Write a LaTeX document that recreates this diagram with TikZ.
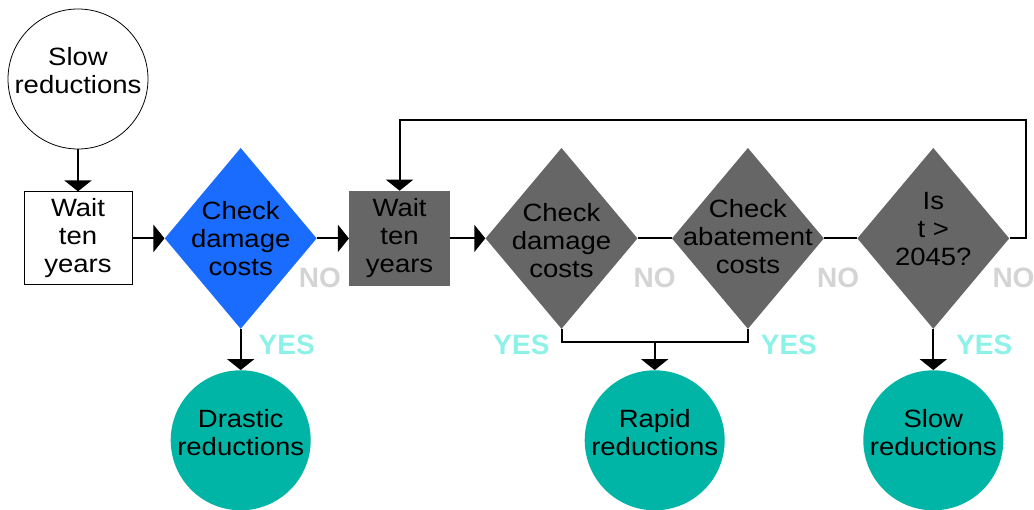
\documentclass[tikz,border=0pt]{standalone}
\usepackage{fontspec}
\setmainfont{Liberation Sans}
\newfontfamily\widesans[FakeStretch=1.1]{Liberation Sans}
\usetikzlibrary{positioning,shapes.geometric,arrows.meta,calc}
\definecolor{chkblue}{RGB}{26,108,255}
\definecolor{stepgray}{RGB}{102,102,102}
\definecolor{endteal}{RGB}{0,181,165}
\definecolor{nogray}{RGB}{212,212,212}
\definecolor{yescyan}{RGB}{140,242,232}
\begin{document}
\begin{tikzpicture}[x=1pt, y=1pt,
	txt/.style = {align=center, inner sep=0pt, font=\widesans\fontsize{25}{28}\selectfont},
	waitbox/.style = {rectangle, minimum width=108pt, minimum height=93pt, txt},
	decide/.style = {diamond, fill=#1, minimum width=152pt, minimum height=181pt, inner sep=0pt},
	endcirc/.style = {circle, fill=endteal, minimum size=140pt, inner sep=0pt},
	flow/.style = {line width=2pt, -{Triangle[width=27pt,length=11pt]}},
	link/.style = {line width=2pt},
	nolbl/.style = {text=nogray, inner sep=0pt, font=\bfseries\fontsize{28}{28}\selectfont},
	yeslbl/.style = {text=yescyan, inner sep=0pt, font=\bfseries\fontsize{28}{28}\selectfont}]
	\useasboundingbox (0,0) rectangle (1034,-510);
	% main row
	\node[circle, draw, line width=0.8pt, minimum size=140pt, inner sep=0pt,
		label={[txt,yshift=8pt]center:Slow\\reductions}] (slow0) at (78,-79) {};
	\node[waitbox, draw, line width=1pt] (wait1) [below=42pt of slow0] {Wait\\ten\\years};
	\node[decide=chkblue, label={[txt]center:Check\\damage\\costs}] (chk1) [right=32pt of wait1] {};
	\node[waitbox, fill=stepgray, minimum width=101pt, minimum height=95pt] (wait2) [right=32pt of chk1] {Wait\\ten\\years};
	\node[decide=stepgray, label={[txt,yshift=-2pt]center:Check\\damage\\costs}] (chk2) [right=35pt of wait2] {};
	\node[decide=stepgray, label={[txt,yshift=2pt]center:Check\\abatement\\costs}] (chk3) [right=34pt of chk2] {};
	\node[decide=stepgray, label={[txt,yshift=9pt]center:Is\\t >\\2045?}] (tchk) [right=33pt of chk3] {};
	% outcomes
	\node[endcirc, label={[txt,yshift=8pt]center:Drastic\\reductions}] (drastic) [below=41pt of chk1] {};
	\coordinate (join) at ($(chk2.south)!0.5!(chk3.south)+(0,-13)$);
	\node[endcirc, label={[txt,yshift=8pt]center:Rapid\\reductions}] (rapid) [below=28pt of join] {};
	\node[endcirc, label={[txt,yshift=8pt]center:Slow\\reductions}] (slow1) [below=41pt of tchk] {};
	% connectors
	\draw[flow] (slow0) -- (wait1);
	\draw[flow] (wait1) -- (chk1);
	\draw[flow] (chk1) -- (wait2);
	\draw[flow] (wait2) -- (chk2);
	\draw[link] (chk2) -- (chk3);
	\draw[link] (chk3) -- (tchk);
	\draw[flow] (tchk.east) -- ++(16,0) -- ++(0,118) -| (wait2.north);
	\draw[flow] (chk1) -- (drastic);
	\draw[link] (chk2.south) -- ++(0,-13) -| (chk3.south);
	\draw[flow] (join) -- (rapid);
	\draw[flow] (tchk) -- (slow1);
	% answers
	\node[nolbl] (no1) at ([shift={(3,-39)}]chk1.east) {NO};
	\node[nolbl] (no2) at ([shift={(17,-39)}]chk2.east) {NO};
	\node[nolbl] (no3) at ([shift={(14,-39)}]chk3.east) {NO};
	\node[nolbl] (no4) at ([shift={(4,-39)}]tchk.east) {NO};
	\node[yeslbl] (yes1) at ([shift={(46,-16)}]chk1.south) {YES};
	\node[yeslbl] (yes2) at ([shift={(-40,-16)}]chk2.south) {YES};
	\node[yeslbl] (yes3) at ([shift={(41,-16)}]chk3.south) {YES};
	\node[yeslbl] (yes4) at ([shift={(51,-16)}]tchk.south) {YES};
\end{tikzpicture}
\end{document}
